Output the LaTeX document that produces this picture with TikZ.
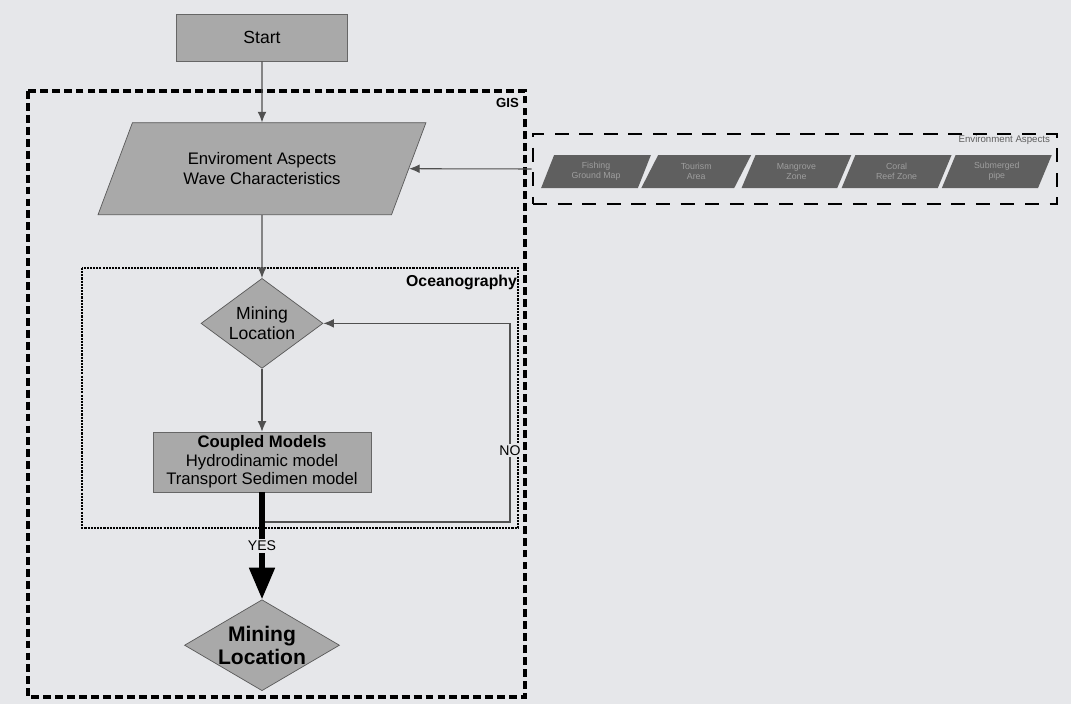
\documentclass[tikz,border=0pt]{standalone}
\usepackage{fontspec}
\setmainfont{Liberation Sans}
\usetikzlibrary{shapes.geometric,arrows.meta,positioning}
\definecolor{paper}{HTML}{E6E7EA}
\definecolor{boxgray}{HTML}{A9A9A9}
\definecolor{darkpar}{HTML}{5F5F5F}
\definecolor{partext}{HTML}{9E9E9E}
\definecolor{linegray}{HTML}{505050}

\begin{document}
\begin{tikzpicture}[
  x=0.02cm, y=-0.02cm,
  >={Latex[length=6pt,width=5pt]},
  every node/.style={font=\small},
  procbox/.style={draw=gray!80!black, fill=boxgray, thin, align=center},
  datapar/.style={trapezium, trapezium left angle=63, trapezium right angle=117,
    trapezium stretches=true, draw=gray!70!black, fill=boxgray, align=center},
  decision/.style={diamond, aspect=1.35, inner sep=0pt, draw=gray!70!black,
    fill=boxgray, align=center},
  envpar/.style={trapezium, trapezium left angle=67, trapezium right angle=113,
    trapezium stretches=true, fill=darkpar, text=partext, inner sep=0pt,
    align=center, minimum height=0.66cm, minimum width=2.2cm,
    font=\fontsize{5}{5.5}\selectfont},
  flow/.style={->, draw=linegray, line width=0.6pt},
  gisline/.style={line width=2.2pt, dash pattern=on 4.5pt off 2.3pt},
  oceanline/.style={line width=1.4pt, dash pattern=on 1.2pt off 0.6pt},
  envline/.style={line width=1.6pt, dash pattern=on 8pt off 6pt},
  tag/.style={fill=paper, inner sep=1pt, font=\fontsize{8}{9}\selectfont}
]
  \useasboundingbox[fill=paper] (0,0) rectangle (1071,704);

  % GIS and Oceanography frames
  \draw[gisline] (28,91) rectangle (525,697);
  \node (gislbl) [anchor=north east, inner sep=1pt,
    font=\bfseries\fontsize{7.5}{8}\selectfont] at (521,96) {GIS};
  \draw[oceanline] (82,268) rectangle (518,528);
  \node (oceanlbl) [anchor=east, inner sep=1pt,
    font=\bfseries\fontsize{9}{10}\selectfont] at (519,282) {Oceanography};

  % Main flow
  \node (start) [procbox, minimum width=3.42cm, minimum height=0.94cm,
    font=\fontsize{10}{12}\selectfont] at (262,37.5) {Start};
  \node (aspects) [datapar, below=1.22cm of start, minimum width=6.56cm,
    minimum height=1.84cm, font=\fontsize{9.5}{11.4}\selectfont]
    {Enviroment Aspects\\Wave Characteristics};
  \node (mine1) [decision, below=1.26cm of aspects, minimum width=2.44cm,
    minimum height=1.8cm, font=\fontsize{10}{11.5}\selectfont]
    {Mining\\Location};
  \node (coupled) [procbox, below=1.26cm of mine1, minimum width=4.36cm,
    minimum height=1.2cm, inner sep=1pt, font=\fontsize{9.5}{10.5}\selectfont]
    {\textbf{Coupled Models}\\Hydrodinamic model\\Transport Sedimen model};
  \node (mine2) [decision, aspect=1.7, below=2.14cm of coupled,
    minimum width=3.1cm, minimum height=1.82cm,
    font=\bfseries\fontsize{12}{13}\selectfont]
    {Mining\\Location};

  % Environment aspects strip
  \node (envbox) [draw, envline, minimum width=10.48cm, minimum height=1.4cm]
    at (795,169) {};
  \node (envlbl) [anchor=east, inner sep=1pt, text=darkpar,
    font=\fontsize{5.5}{6}\selectfont] at (1052,140) {Environment Aspects};
  \foreach \lbl [count=\i from 0] in {{Fishing\\Ground Map},{Tourism\\Area},
      {Mangrove\\Zone},{Coral\\Reef Zone},{Submerged\\pipe}}
    \node (env\i) [envpar] at ({596+100.2*\i},171.5) {\lbl};

  % Connectors
  \draw[flow] (start) -- (aspects);
  \draw[flow] (envbox.west) -- (aspects.east);
  \draw[flow] (aspects) -- (mine1);
  \draw[flow] (mine1) -- (coupled);
  \coordinate (yesjoin) at (262,522);
  \coordinate (nojoin) at (510,522);
  \draw[flow] (yesjoin) -- (nojoin)
    -- node[tag, pos=0.36] (nolbl) {NO} (nojoin |- mine1.east) -- (mine1.east);
  \draw[line width=3.4pt, -{Triangle[length=18pt,width=14pt]}]
    (coupled) -- node[tag] (yeslbl) {YES} (mine2);
\end{tikzpicture}
\end{document}
